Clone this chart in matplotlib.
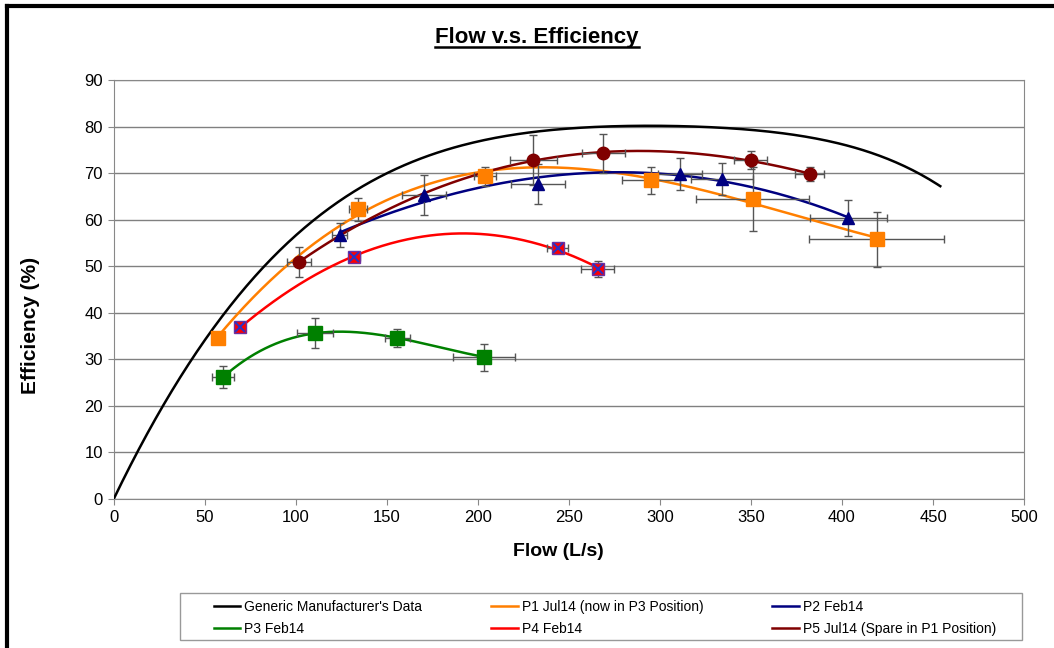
import numpy as np
import matplotlib
matplotlib.use("Agg")
import matplotlib.pyplot as plt
from matplotlib.lines import Line2D
from matplotlib.patches import Rectangle

plt.rcParams['font.family'] = ['Liberation Sans', 'DejaVu Sans']

# Generic manufacturer's curve
gen_flow = [0, 12.5, 27, 42.5, 60.5, 83.4, 104, 121, 139, 157, 176, 194, 212, 231, 249, 277, 311, 348, 385, 421, 454]
gen_eff = [0, 10, 20, 30, 40, 50, 57.6, 63.5, 67.8, 71.4, 74.2, 76.4, 77.8, 78.7, 79.3, 80.0, 80.3, 79.5, 77.3, 73.7, 67.2]

# P1 Jul14
p1_flow = [57, 134, 204, 295, 351, 419]
p1_eff = [34.5, 62.2, 69.3, 68.5, 64.4, 55.8]
p1_xerr = [0, 5, 6, 16, 31, 37]
p1_yerr = [0, 2.5, 2.0, 2.9, 6.9, 5.9]

# P2 Feb14
p2_flow = [124, 170.5, 233, 311, 334, 403.5]
p2_eff = [56.7, 65.3, 67.6, 69.8, 68.7, 60.3]
p2_xerr = [4, 12, 15, 12, 17, 21]
p2_yerr = [2.6, 4.4, 4.3, 3.5, 3.5, 3.9]

# P3 Feb14
p3_flow = [60, 110.6, 155.7, 203.5]
p3_eff = [26.2, 35.6, 34.6, 30.5]
p3_xerr = [6, 10, 7, 17]
p3_yerr = [2.4, 3.2, 2.0, 2.9]

# P4 Feb14
p4_flow = [69.3, 132, 243.7, 265.7]
p4_eff = [36.9, 52.0, 53.9, 49.4]
p4_xerr = [0, 3, 6, 9]
p4_yerr = [0, 1.0, 1.0, 1.8]

# P5 Jul14
p5_flow = [101.6, 230.4, 268.9, 349.8, 382.3]
p5_eff = [50.9, 72.8, 74.3, 72.8, 69.8]
p5_xerr = [6.4, 13, 12, 9, 8]
p5_yerr = [3.2, 5.3, 4.2, 1.9, 1.5]

fig = plt.figure(figsize=(10.54, 6.48), dpi=100)
ax = fig.add_axes([114/1054, 1-499/648, 910/1054, 419/648])

ax.set_xlim(0, 500)
ax.set_ylim(0, 90)
ax.set_xticks(np.arange(0, 501, 50))
ax.set_yticks(np.arange(0, 91, 10))
ax.yaxis.grid(True, color='#808080', lw=1)
ax.set_axisbelow(True)
for s in ax.spines.values():
    s.set_color('#888888')
ax.tick_params(colors='#888888', labelcolor='black', labelsize=12, length=4, pad=4)

ebc = '#555555'


def trend(fx, fy, color, deg, z=3):
    c = np.polyfit(fx, fy, deg)
    xs = np.linspace(min(fx), max(fx), 300)
    ax.plot(xs, np.polyval(c, xs), color=color, lw=1.8, zorder=z)


trend(gen_flow, gen_eff, 'black', 5)

series = [
    (p1_flow, p1_eff, p1_xerr, p1_yerr, '#ff7f00', 's', 10, 3),
    (p2_flow, p2_eff, p2_xerr, p2_yerr, '#000080', '^', 9, 3),
    (p3_flow, p3_eff, p3_xerr, p3_yerr, '#008000', 's', 10, 3),
    (p4_flow, p4_eff, p4_xerr, p4_yerr, '#ff0000', 's', 8.5, 2),
    (p5_flow, p5_eff, p5_xerr, p5_yerr, '#800000', 'o', 9, 3),
]
for fx, fy, xe, ye, col, mk, ms, deg in series:
    trend(fx, fy, col, deg)
    ax.errorbar(fx, fy, xerr=xe, yerr=ye, fmt='none', ecolor=ebc, elinewidth=1,
                capsize=3, capthick=1, zorder=4)
    ec = '#7030a0' if col == '#ff0000' else col
    ax.plot(fx, fy, ls='none', marker=mk, ms=ms, mfc=col, mec=ec, zorder=5)
ax.plot(p4_flow, p4_eff, ls='none', marker='x', ms=7, mec='#3030c0', mew=1.5, zorder=6)

fig.text(558/1054, 1-551/648, 'Flow (L/s)', fontsize=14, fontweight='bold', ha='center', va='center')
fig.text(31/1054, 1-325/648, 'Efficiency (%)', fontsize=15, fontweight='bold', ha='center',
         va='center', rotation=90)

title = fig.text(537/1054, 1-38/648, 'Flow v.s. Efficiency', fontsize=16, fontweight='bold',
                 ha='center', va='center')
fig.canvas.draw()
bb = title.get_window_extent().transformed(fig.transFigure.inverted())
fig.add_artist(Line2D([bb.x0, bb.x1], [bb.y0 + 0.002, bb.y0 + 0.002], color='black', lw=1.8))

# legend
handles = [
    Line2D([], [], color='black', lw=1.8),
    Line2D([], [], color='#008000', lw=1.8),
    Line2D([], [], color='#ff7f00', lw=1.8),
    Line2D([], [], color='#ff0000', lw=1.8),
    Line2D([], [], color='#000080', lw=1.8),
    Line2D([], [], color='#800000', lw=1.8),
]
labels = ["Generic Manufacturer's Data", 'P3 Feb14', 'P1 Jul14 (now in P3 Position)',
          'P4 Feb14', 'P2 Feb14', 'P5 Jul14 (Spare in P1 Position)']
fig.legend(handles, labels, ncol=3, loc='upper left', bbox_to_anchor=(207/1054, 1-593/648),
           frameon=False, fontsize=10, borderpad=0, handlelength=1.9, handletextpad=0.3,
           columnspacing=4.95, labelspacing=0.6)
fig.add_artist(Rectangle((180/1054, 1-640/648), 842/1054, 47/648, transform=fig.transFigure,
                         fill=False, edgecolor='#999999', lw=1))

# outer frame fragments
fig.add_artist(Line2D([6.5/1054, 6.5/1054], [0, 1-5.5/648], color='black', lw=3))
fig.add_artist(Line2D([6.5/1054, 1], [1-5.5/648, 1-5.5/648], color='black', lw=3))

fig.savefig('out.png', dpi=100)
